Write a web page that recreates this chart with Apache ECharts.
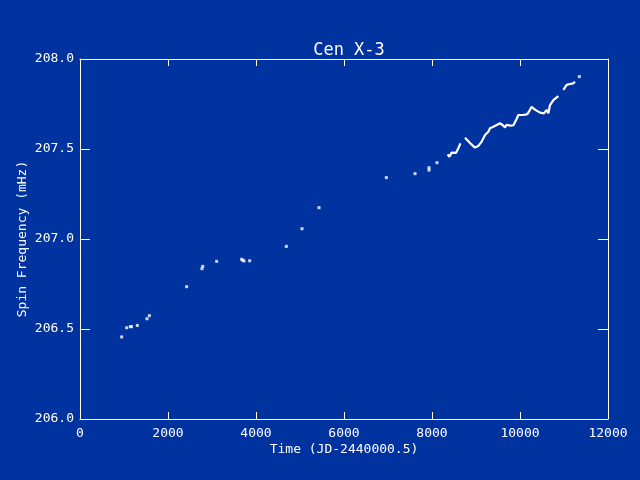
<!DOCTYPE html>
<html>
<head>
<meta charset="utf-8">
<script src="https://cdn.jsdelivr.net/npm/echarts@6/dist/echarts.min.js"></script>
<style>
  html, body { margin: 0; padding: 0; background: #0032a0; }
  #chart { width: 640px; height: 480px; }
</style>
</head>
<body>
<div id="chart"></div>
<script>
// isolated measurements
var dotX = [947, 1061, 1144, 1170, 1303, 1523, 1576, 2424, 2772, 2790, 3106, 3674, 3700, 3727, 3856,
  4689, 5045, 5432, 6962, 7614, 7932, 7932, 8114, 11348];
var dotY = [206.456, 206.507, 206.513, 206.513, 206.52, 206.557, 206.574, 206.735, 206.835, 206.848, 206.876,
  206.887, 206.882, 206.878, 206.879, 206.959, 207.057, 207.174, 207.341, 207.363, 207.383, 207.396, 207.424, 207.902];

// dense stretches
var curve1X = [8356, 8371, 8394, 8447, 8485, 8545, 8598, 8636, 8652];
var curve1Y = [207.47, 207.462, 207.457, 207.48, 207.47, 207.478, 207.504, 207.526, 207.531];

var curve2X = [8750, 8800, 8864, 8920, 8977, 9053, 9129, 9152, 9205, 9227, 9280, 9318, 9356, 9394, 9470,
  9507, 9545, 9561, 9610, 9659, 9700, 9735, 9770, 9811, 9850, 9886, 9925, 9962, 10020, 10076, 10167,
  10220, 10265, 10320, 10379, 10455, 10545, 10606, 10644, 10682, 10720, 10758, 10795, 10871];
var curve2Y = [207.563, 207.55, 207.533, 207.52, 207.508, 207.517, 207.541, 207.55, 207.578, 207.587, 207.596,
  207.615, 207.624, 207.624, 207.633, 207.624, 207.643, 207.648, 207.632, 207.62, 207.635, 207.643, 207.63,
  207.62, 207.632, 207.643, 207.668, 207.689, 207.689, 207.689, 207.694, 207.715, 207.735, 207.722, 207.713,
  207.702, 207.698, 207.717, 207.698, 207.744, 207.744, 207.772, 207.768, 207.794];

var curve3X = [10985, 11061, 11100, 11136, 11212, 11250];
var curve3Y = [207.828, 207.856, 207.858, 207.861, 207.865, 207.874];

var xTicks = [0, 2000, 4000, 6000, 8000, 10000, 12000];
var yTicks = [206.0, 206.5, 207.0, 207.5, 208.0];

function pairs(xs, ys) {
  return xs.map(function (x, i) { return [x, ys[i]]; });
}

var font = "DejaVu Sans Mono";
var white = "#ffffff";

function lineSeries(xs, ys) {
  return {
    type: "line",
    xAxisIndex: 0,
    yAxisIndex: 0,
    data: pairs(xs, ys),
    showSymbol: false,
    symbol: "none",
    lineStyle: { color: white, width: 2.2 },
    animation: false
  };
}

var chart = echarts.init(document.getElementById("chart"));
var option = {
  backgroundColor: "#0032a0",
  animation: false,
  title: {
    text: "Cen X-3",
    left: 344,
    top: 37,
    textAlign: "center",
    textStyle: { color: white, fontFamily: font, fontSize: 17, fontWeight: "normal" }
  },
  grid: { left: 80, right: 32, top: 59, bottom: 61 },
  xAxis: [
    {
      type: "value",
      min: xTicks[0],
      max: xTicks[xTicks.length - 1],
      interval: 2000,
      name: "Time (JD-2440000.5)",
      nameLocation: "middle",
      nameGap: 24,
      nameMoveOverlap: false,
      nameTextStyle: { color: white, fontFamily: font, fontSize: 13 },
      axisLine: { show: true, onZero: false, lineStyle: { color: white, width: 1 } },
      axisTick: { show: true, inside: true, length: 7, lineStyle: { color: white } },
      axisLabel: {
        color: white, fontFamily: font, fontSize: 13, margin: 8,
        formatter: function (v) { return String(v); }
      },
      splitLine: { show: false }
    },
    {
      type: "value",
      position: "top",
      min: xTicks[0],
      max: xTicks[xTicks.length - 1],
      interval: 2000,
      axisLine: { show: true, onZero: false, lineStyle: { color: white, width: 1 } },
      axisTick: { show: true, inside: true, length: 7, lineStyle: { color: white } },
      axisLabel: { show: false },
      splitLine: { show: false }
    }
  ],
  yAxis: [
    {
      type: "value",
      min: yTicks[0],
      max: yTicks[yTicks.length - 1],
      interval: 0.5,
      name: "Spin Frequency (mHz)",
      nameLocation: "middle",
      nameGap: 51,
      nameMoveOverlap: false,
      nameTextStyle: { color: white, fontFamily: font, fontSize: 13 },
      axisLine: { show: true, onZero: false, lineStyle: { color: white, width: 1 } },
      axisTick: { show: true, inside: true, length: 10, lineStyle: { color: white } },
      axisLabel: {
        color: white, fontFamily: font, fontSize: 13, margin: 6,
        formatter: function (v) { return v.toFixed(1); }
      },
      splitLine: { show: false }
    },
    {
      type: "value",
      position: "right",
      min: yTicks[0],
      max: yTicks[yTicks.length - 1],
      interval: 0.5,
      axisLine: { show: true, onZero: false, lineStyle: { color: white, width: 1 } },
      axisTick: { show: true, inside: true, length: 10, lineStyle: { color: white } },
      axisLabel: { show: false },
      splitLine: { show: false }
    }
  ],
  series: [
    {
      type: "scatter",
      xAxisIndex: 0,
      yAxisIndex: 0,
      data: pairs(dotX, dotY),
      symbol: "rect",
      symbolSize: 3,
      itemStyle: { color: white },
      animation: false
    },
    lineSeries(curve1X, curve1Y),
    lineSeries(curve2X, curve2Y),
    lineSeries(curve3X, curve3Y)
  ]
};
chart.setOption(option);
</script>
</body>
</html>
